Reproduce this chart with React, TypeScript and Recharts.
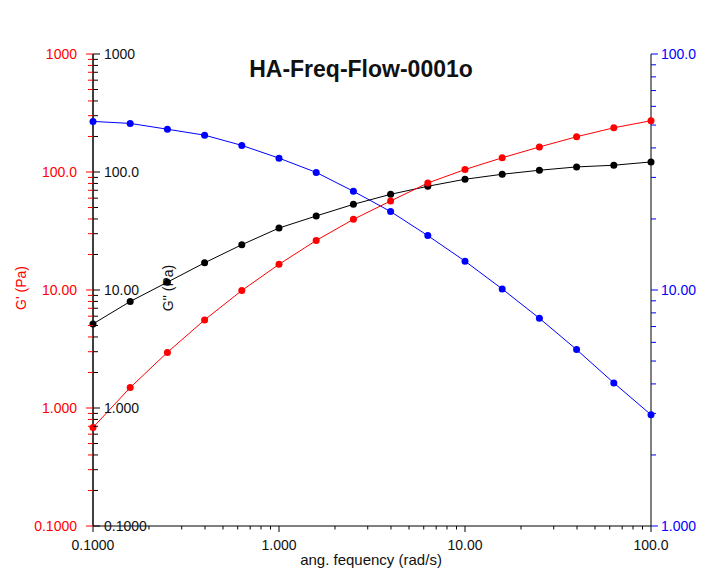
import { LineChart, Line, XAxis, YAxis } from "recharts";

// angular frequency sweep, 5 points per decade
const freq = [0.1, 0.1585, 0.2512, 0.3981, 0.631, 1, 1.585, 2.512, 3.981, 6.31, 10, 15.85, 25.12, 39.81, 63.1, 100];
const gPrime = [0.684, 1.49, 2.96, 5.58, 9.9, 16.5, 26.3, 39.7, 56.8, 80.7, 105, 132, 163, 199, 237, 272];
const gDouble = [5.16, 7.99, 11.65, 17.0, 24.2, 33.5, 42.4, 53.2, 64.7, 75.7, 86.8, 95.7, 103.5, 110.4, 114.1, 121.7];
const eta = [51.8, 50.8, 48.0, 45.3, 41.0, 36.2, 31.5, 26.2, 21.5, 17.0, 13.25, 10.1, 7.59, 5.59, 4.04, 2.96];

const xTicks = [
  0.1, 0.2, 0.3, 0.4, 0.5, 0.6, 0.7, 0.8, 0.9,
  1, 2, 3, 4, 5, 6, 7, 8, 9,
  10, 20, 30, 40, 50, 60, 70, 80, 90, 100,
];
const xMajor = [0.1, 1, 10, 100];
const xLabels = ["0.1000", "1.000", "10.00", "100.0"];

const gTicks = [
  0.1, 0.2, 0.3, 0.4, 0.5, 0.6, 0.7, 0.8, 0.9,
  1, 2, 3, 4, 5, 6, 7, 8, 9,
  10, 20, 30, 40, 50, 60, 70, 80, 90,
  100, 200, 300, 400, 500, 600, 700, 800, 900, 1000,
];
const gMajor = [0.1, 1, 10, 100, 1000];
const gLabels = ["0.1000", "1.000", "10.00", "100.0", "1000"];

const etaTicks = [1, 2, 3, 4, 5, 6, 7, 8, 9, 10, 20, 30, 40, 50, 60, 70, 80, 90, 100];
const etaMajor = [1, 10, 100];
const etaLabels = ["1.000", "10.00", "100.0"];

const rows = freq.map((w, i) => ({ w, gp: gPrime[i], gpp: gDouble[i], eta: eta[i] }));

const FONT = "'Liberation Sans', Arial, sans-serif";

function labelFor(v: number, majors: number[], labels: string[]) {
  const i = majors.findIndex((m) => Math.abs(v - m) < m * 1e-6);
  return i >= 0 ? labels[i] : null;
}

type TickProps = { x?: number; y?: number; payload?: { value: number } };

// vertical axis tick: dir -1 draws to the left of the axis line, +1 to the right
function VTick(props: TickProps & { color: string; dir: number; gap: number; majors: number[]; labels: string[] }) {
  const { x = 0, y = 0, payload, color, dir, gap, majors, labels } = props;
  const label = labelFor(payload?.value ?? 0, majors, labels);
  const len = label ? 7 : 5;
  return (
    <g>
      <line x1={x} y1={y} x2={x + dir * len} y2={y} stroke={color} strokeWidth={1} />
      {label && (
        <text
          x={x + dir * (7 + gap)}
          y={y}
          dy="0.35em"
          textAnchor={dir < 0 ? "end" : "start"}
          fill={color === "#000" ? "#111" : color}
          fontSize={14}
          fontFamily={FONT}
        >
          {label}
        </text>
      )}
    </g>
  );
}

function XTick({ x = 0, y = 0, payload }: TickProps) {
  const label = labelFor(payload?.value ?? 0, xMajor, xLabels);
  return (
    <g>
      <line x1={x} y1={y} x2={x} y2={y + (label ? 6 : 3.5)} stroke="#000" strokeWidth={1} />
      {label && (
        <text x={x} y={y + 24} textAnchor="middle" fill="#111" fontSize={14} fontFamily={FONT}>
          {label}
        </text>
      )}
    </g>
  );
}

export default function App() {
  return (
    <LineChart width={697} height={566} data={rows} margin={{ top: 46, right: 0, bottom: 0, left: 0 }}>
      <XAxis
        dataKey="w"
        type="number"
        scale="log"
        domain={[0.1, 100]}
        ticks={xTicks}
        interval={0}
        height={48}
        tickSize={0}
        tickMargin={0}
        tickLine={false}
        axisLine={{ stroke: "#000" }}
        tick={(p: TickProps) => <XTick {...p} />}
      />
      <YAxis
        yAxisId="gp"
        type="number"
        scale="log"
        domain={[0.1, 1000]}
        ticks={gTicks}
        interval={0}
        width={85}
        tickSize={0}
        tickMargin={0}
        tickLine={false}
        axisLine={{ stroke: "#000" }}
        tick={(p: TickProps) => <VTick {...p} color="#ff0000" dir={-1} gap={9} majors={gMajor} labels={gLabels} />}
      />
      <YAxis
        yAxisId="gpp"
        type="number"
        scale="log"
        domain={[0.1, 1000]}
        ticks={gTicks}
        interval={0}
        mirror
        tickSize={0}
        tickMargin={0}
        tickLine={false}
        axisLine={{ stroke: "#000" }}
        tick={(p: TickProps) => <VTick {...p} color="#000" dir={1} gap={4} majors={gMajor} labels={gLabels} />}
      />
      <YAxis
        yAxisId="eta"
        orientation="right"
        type="number"
        scale="log"
        domain={[1, 100]}
        ticks={etaTicks}
        interval={0}
        width={54}
        tickSize={0}
        tickMargin={0}
        tickLine={false}
        axisLine={{ stroke: "#000" }}
        tick={(p: TickProps) => <VTick {...p} color="#0000ff" dir={1} gap={3} majors={etaMajor} labels={etaLabels} />}
      />
      <Line
        yAxisId="eta"
        dataKey="eta"
        type="linear"
        stroke="#0000ff"
        strokeWidth={1}
        dot={{ r: 3.5, fill: "#0000ff", stroke: "#0000ff", strokeWidth: 0 }}
        activeDot={false}
        isAnimationActive={false}
      />
      <Line
        yAxisId="gpp"
        dataKey="gpp"
        type="linear"
        stroke="#000"
        strokeWidth={1}
        dot={{ r: 3.5, fill: "#000", stroke: "#000", strokeWidth: 0 }}
        activeDot={false}
        isAnimationActive={false}
      />
      <Line
        yAxisId="gp"
        dataKey="gp"
        type="linear"
        stroke="#ff0000"
        strokeWidth={1}
        dot={{ r: 3.5, fill: "#ff0000", stroke: "#ff0000", strokeWidth: 0 }}
        activeDot={false}
        isAnimationActive={false}
      />
      <text x={353} y={69} textAnchor="middle" fontSize={23} fontWeight="bold" fontFamily={FONT} fill="#111">
        HA-Freq-Flow-0001o
      </text>
      <text x={363} y={557} textAnchor="middle" fontSize={15} fontFamily={FONT} fill="#111">
        ang.  fequency (rad/s)
      </text>
      <text
        x={13}
        y={280}
        dy="0.35em"
        textAnchor="middle"
        transform="rotate(-90, 13, 280)"
        fontSize={14}
        fontFamily={FONT}
        fill="#ff0000"
      >
        G' (Pa)
      </text>
      <text
        x={160}
        y={280}
        dy="0.35em"
        textAnchor="middle"
        transform="rotate(-90, 160, 280)"
        fontSize={14}
        fontFamily={FONT}
        fill="#111"
      >
        G'' (Pa)
      </text>
      <text
        x={701}
        y={284}
        dy="0.35em"
        textAnchor="middle"
        transform="rotate(-90, 701, 284)"
        fontSize={14}
        fontFamily={FONT}
        fill="#0000ff"
      >
        n' (Pa.s)
      </text>
    </LineChart>
  );
}
